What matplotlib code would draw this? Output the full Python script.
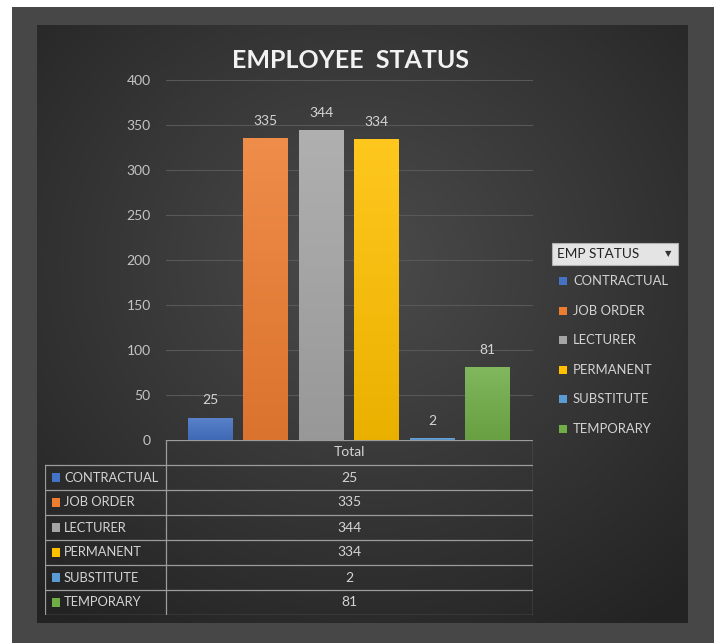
import numpy as np
import matplotlib.pyplot as plt
from matplotlib.patches import Rectangle
from matplotlib.colors import to_rgb

# data
categories = ['CONTRACTUAL', 'JOB ORDER', 'LECTURER', 'PERMANENT', 'SUBSTITUTE', 'TEMPORARY']
values = [25, 335, 344, 334, 2, 81]
colors = ['#4472C4', '#ED7D31', '#A5A5A5', '#FFC000', '#5B9BD5', '#70AD47']
yticks = [0, 50, 100, 150, 200, 250, 300, 350, 400]
column_header = 'Total'
legend_title = 'EMP STATUS'
title = 'EMPLOYEE  STATUS'

plt.rcParams['font.family'] = ['Lato', 'DejaVu Sans']

W, H = 717, 643
fig = plt.figure(figsize=(W / 100, H / 100), dpi=100)
fig.patch.set_facecolor('white')


def fr(x0, y0, x1, y1):
    # pixel box (top-left origin) -> figure rect
    return [x0 / W, 1 - y1 / H, (x1 - x0) / W, (y1 - y0) / H]


# outer gray frame
fig.add_artist(Rectangle((12 / W, 0), 702 / W, 636 / H, transform=fig.transFigure,
                         facecolor='#474747', edgecolor='none', zorder=-5))

# dark radial background
bg = fig.add_axes(fr(37, 25, 688, 623))
ny, nx = 300, 330
yy, xx = np.mgrid[0:1:ny * 1j, 0:1:nx * 1j]
r = np.sqrt(((xx - 0.5) / 0.75) ** 2 + ((yy - 0.4) / 0.75) ** 2)
r = np.clip(r, 0, 1)
c0 = np.array(to_rgb('#4b4b4b'))
c1 = np.array(to_rgb('#232323'))
img = c0[None, None, :] * (1 - r[..., None]) + c1[None, None, :] * r[..., None]
bg.imshow(img, aspect='auto', extent=(0, 1, 0, 1))
bg.axis('off')

# main chart
ax = fig.add_axes(fr(166, 80, 533, 440))
ax.patch.set_alpha(0)
x = np.arange(len(values))
bars = ax.bar(x, values, width=0.81, color=colors, zorder=2)


def shade(c, t):
    c = np.array(to_rgb(c))
    if t > 0:
        return c + (1 - c) * t
    return c * (1 + t)


for b, c in zip(bars, colors):
    grad = np.linspace(0, 1, 100)[:, None, None]
    top, bot = shade(c, 0.12), shade(c, -0.08)
    g = top[None, None, :] * (1 - grad) + bot[None, None, :] * grad
    im = ax.imshow(g, extent=(b.get_x(), b.get_x() + b.get_width(), 0, b.get_height()),
                   aspect='auto', zorder=3)
    im.set_clip_path(b)

for xi, v in zip(x, values):
    ax.annotate(str(v), (xi, v), xytext=(0, 12.5), textcoords='offset points',
                ha='center', va='center', color='#d4d4d4', fontsize=10)

ax.set_xlim(-0.8, 5.82)
ax.set_ylim(0, 400)
ax.set_yticks(yticks)
ax.set_xticks([])
ax.yaxis.grid(True, color='#585858', lw=0.8)
ax.set_axisbelow(True)
for s in ax.spines.values():
    s.set_visible(False)
ax.tick_params(axis='y', length=0, pad=11, labelsize=10, labelcolor='#c4c4c4')

# title
fig.text(351 / W, 1 - 60 / H, title, ha='center', va='center', fontsize=18,
         fontweight='bold', color='#f2f2f2')

# data table
tab = fig.add_axes(fr(45, 440, 533, 615))
tab.patch.set_alpha(0)
tab.set_xlim(0, 1)
nrows = len(categories) + 1
tab.set_ylim(nrows, 0)
tab.axis('off')
split = (166 - 45) / (533 - 45)
lc = '#9c9c9c'
lw = 0.9
tab.plot([split, 1], [0, 0], color=lc, lw=lw)
tab.plot([split, split], [0, nrows], color=lc, lw=lw)
tab.plot([1, 1], [0, nrows], color=lc, lw=lw)
tab.plot([0, 0], [1, nrows], color=lc, lw=lw)
for i in range(1, nrows + 1):
    tab.plot([0, 1], [i, i], color=lc, lw=lw)
tab.text((split + 1) / 2, 0.5, column_header, ha='center', va='center',
         color='#d4d4d4', fontsize=10)
for i, (name, v, c) in enumerate(zip(categories, values, colors)):
    yc = i + 1.5
    tab.add_patch(Rectangle((7 / 488, yc - 0.18), 8 / 488, 0.34, facecolor=c,
                            edgecolor='none'))
    tab.text(19 / 488, yc, name, ha='left', va='center', color='#d4d4d4', fontsize=9.3)
    tab.text((split + 1) / 2, yc, str(v), ha='center', va='center',
             color='#d4d4d4', fontsize=10)

# legend (pivot field button + entries)
fig.add_artist(Rectangle((552 / W, 1 - 265 / H), 126 / W, 22 / H, transform=fig.transFigure,
                         facecolor='#e4e4e4', edgecolor='#b0b0b0', lw=0.8))
fig.text(557 / W, 1 - 254 / H, legend_title, ha='left', va='center', fontsize=9.8,
         color='#222222')
fig.text(668 / W, 1 - 254 / H, '\u25bc', ha='center', va='center', fontsize=6,
         color='#333333', family=['DejaVu Sans'])
for i, (name, c) in enumerate(zip(categories, colors)):
    yc = 281 + i * 29.6
    fig.add_artist(Rectangle((559 / W, 1 - (yc + 4) / H), 8 / W, 8 / H,
                             transform=fig.transFigure, facecolor=c, edgecolor='none'))
    fig.text(573 / W, 1 - yc / H, name, ha='left', va='center', fontsize=9.4,
             color='#d4d4d4')

fig.savefig('out.png', dpi=100)
